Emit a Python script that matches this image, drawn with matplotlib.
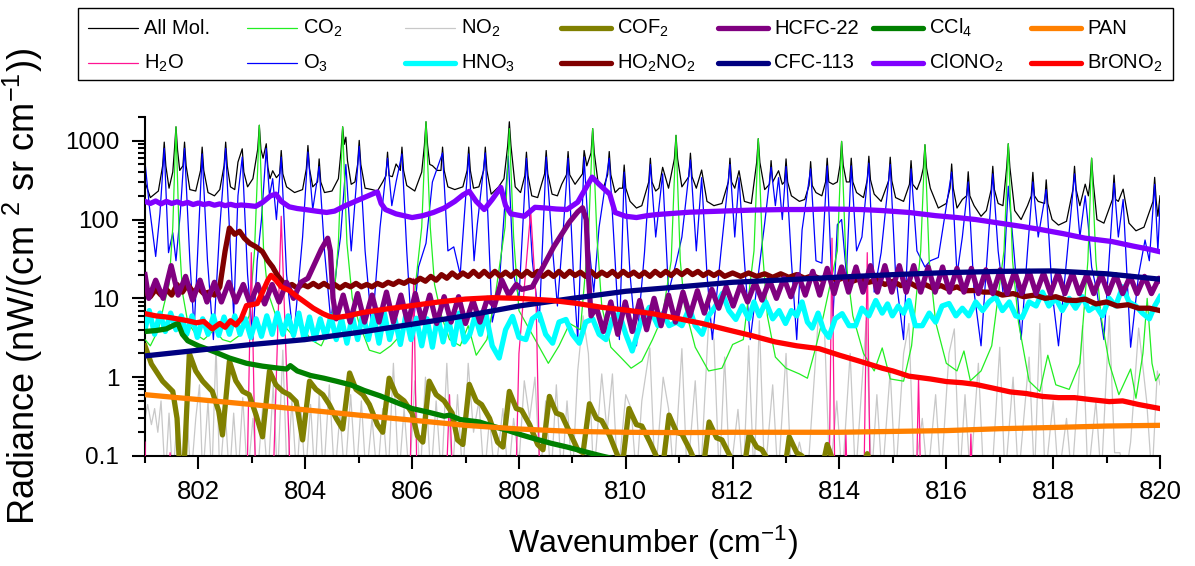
import matplotlib
matplotlib.use("Agg")
import matplotlib.pyplot as plt
from matplotlib.lines import Line2D
from matplotlib.patches import Rectangle
from matplotlib.ticker import FixedLocator, NullFormatter

plt.rcParams['font.family'] = ['Liberation Sans', 'DejaVu Sans']
plt.rcParams['mathtext.default'] = 'regular'

# ---------------- data (wavenumber cm-1, radiance nW/(cm2 sr cm-1)) ----------------
allmol_x = [801.00, 801.10, 801.25, 801.33, 801.36, 801.39, 801.45, 801.52, 801.55, 801.58, 801.61, 801.65, 801.71, 801.74,
            801.77, 801.84, 801.95, 802.04, 802.07, 802.10, 802.18, 802.30, 802.40, 802.48, 802.51, 802.54, 802.60, 802.68,
            802.74, 802.82, 802.85, 802.92, 803.02, 803.11, 803.14, 803.17, 803.21, 803.27, 803.30, 803.34, 803.39, 803.46,
            803.52, 803.55, 803.58, 803.65, 803.80, 803.95, 804.02, 804.05, 804.08, 804.14, 804.23, 804.26, 804.29, 804.36,
            804.50, 804.62, 804.67, 804.70, 804.73, 804.76, 804.79, 804.86, 804.93, 804.98, 805.01, 805.04, 805.12, 805.25,
            805.35, 805.45, 805.51, 805.54, 805.57, 805.63, 805.70, 805.78, 805.81, 805.84, 805.90, 806.05, 806.18, 806.23,
            806.26, 806.29, 806.33, 806.38, 806.47, 806.54, 806.57, 806.60, 806.67, 806.80, 806.95, 807.03, 807.06, 807.09,
            807.15, 807.25, 807.34, 807.37, 807.40, 807.48, 807.62, 807.72, 807.79, 807.82, 807.85, 807.93, 808.03, 808.11,
            808.14, 808.17, 808.24, 808.35, 808.48, 808.51, 808.54, 808.62, 808.72, 808.80, 808.89, 808.92, 808.95, 809.05,
            809.19, 809.22, 809.27, 809.35, 809.38, 809.41, 809.48, 809.58, 809.66, 809.69, 809.72, 809.80, 809.88, 809.94,
            809.97, 810.00, 810.08, 810.20, 810.30, 810.43, 810.46, 810.49, 810.56, 810.62, 810.69, 810.80, 810.91, 810.94,
            810.97, 811.05, 811.18, 811.21, 811.24, 811.32, 811.42, 811.52, 811.65, 811.80, 811.92, 811.95, 811.98, 812.04,
            812.12, 812.22, 812.35, 812.45, 812.48, 812.51, 812.60, 812.69, 812.72, 812.75, 812.86, 812.93, 812.97, 813.00,
            813.03, 813.10, 813.25, 813.35, 813.43, 813.46, 813.49, 813.56, 813.67, 813.74, 813.77, 813.80, 813.88, 813.96,
            814.01, 814.04, 814.07, 814.13, 814.19, 814.22, 814.25, 814.32, 814.45, 814.52, 814.55, 814.58, 814.65, 814.78,
            814.92, 814.95, 814.98, 815.05, 815.20, 815.31, 815.34, 815.37, 815.45, 815.52, 815.57, 815.60, 815.63, 815.70,
            815.85, 816.00, 816.07, 816.10, 816.13, 816.20, 816.30, 816.38, 816.41, 816.44, 816.52, 816.65, 816.75, 816.84,
            816.87, 816.90, 816.97, 817.06, 817.13, 817.16, 817.19, 817.28, 817.40, 817.52, 817.59, 817.62, 817.65, 817.72,
            817.84, 817.87, 817.90, 817.98, 818.10, 818.25, 818.37, 818.40, 818.43, 818.50, 818.60, 818.66, 818.69, 818.72,
            818.75, 818.82, 818.95, 819.11, 819.14, 819.17, 819.22, 819.31, 819.42, 819.55, 819.70, 819.87, 819.90, 819.93,
            819.96, 820.00]
allmol_y = [300, 190, 230, 480, 960, 480, 250, 400, 750, 1500, 750, 420, 480, 960,
            480, 240, 230, 420, 830, 420, 220, 200, 240, 480, 960, 480, 260, 240,
            535, 790, 400, 260, 330, 780, 1570, 780, 600, 915, 460, 330, 416, 340,
            380, 751, 380, 260, 220, 240, 440, 870, 440, 260, 300, 588, 300, 220,
            230, 330, 750, 1500, 900, 1110, 560, 280, 300, 500, 1010, 500, 250, 240,
            230, 300, 360, 716, 360, 350, 507, 420, 830, 420, 270, 230, 400, 870,
            1740, 870, 500, 483, 420, 420, 830, 420, 260, 240, 260, 420, 830, 420,
            250, 260, 420, 830, 420, 210, 260, 330, 870, 1740, 870, 260, 220, 360,
            716, 360, 200, 190, 380, 751, 380, 210, 200, 280, 370, 729, 370, 280,
            380, 751, 480, 700, 1426, 700, 300, 250, 370, 729, 370, 220, 250, 250,
            492, 250, 170, 140, 150, 300, 600, 300, 230, 250, 460, 250, 590, 1170,
            590, 260, 350, 695, 350, 250, 425, 170, 150, 160, 300, 600, 300, 250,
            416, 170, 160, 530, 1060, 530, 240, 280, 559, 300, 416, 280, 300, 588,
            300, 200, 170, 180, 270, 543, 270, 220, 200, 300, 600, 300, 280, 300,
            490, 980, 490, 300, 300, 600, 300, 220, 190, 320, 636, 320, 210, 170,
            310, 618, 310, 190, 170, 280, 559, 280, 240, 320, 450, 889, 450, 250,
            140, 160, 250, 507, 250, 140, 180, 200, 404, 200, 150, 110, 130, 240,
            474, 240, 160, 150, 460, 915, 460, 130, 100, 150, 200, 397, 200, 170,
            160, 319, 160, 100, 85, 95, 240, 474, 240, 150, 281, 200, 300, 600,
            300, 100, 90, 180, 366, 180, 170, 243, 90, 72, 80, 170, 343, 170,
            110, 200]

o3_x = [801.00, 801.08, 801.20, 801.28, 801.36, 801.44, 801.52, 801.58, 801.66, 801.74, 801.84, 801.92, 802.00, 802.07,
        802.17, 802.28, 802.40, 802.51, 802.60, 802.66, 802.74, 802.82, 802.92, 803.02, 803.10, 803.18, 803.27, 803.33,
        803.39, 803.46, 803.55, 803.65, 803.78, 803.95, 804.05, 804.14, 804.26, 804.36, 804.48, 804.60, 804.66, 804.76,
        804.86, 805.01, 805.12, 805.25, 805.40, 805.54, 805.62, 805.70, 805.81, 805.90, 806.00, 806.12, 806.26, 806.38,
        806.57, 806.67, 806.78, 806.90, 807.06, 807.16, 807.22, 807.37, 807.50, 807.62, 807.80, 807.90, 808.00, 808.14,
        808.25, 808.38, 808.51, 808.62, 808.72, 808.82, 808.92, 809.02, 809.10, 809.22, 809.32, 809.40, 809.50, 809.69,
        809.80, 809.88, 809.97, 810.08, 810.20, 810.35, 810.46, 810.56, 810.69, 810.80, 810.94, 811.05, 811.21, 811.32,
        811.42, 811.52, 811.62, 811.78, 811.95, 812.04, 812.12, 812.22, 812.33, 812.48, 812.60, 812.72, 812.80, 812.86,
        812.93, 813.00, 813.10, 813.20, 813.30, 813.46, 813.56, 813.67, 813.77, 813.88, 813.96, 814.04, 814.13, 814.22,
        814.32, 814.42, 814.55, 814.65, 814.78, 814.95, 815.05, 815.20, 815.34, 815.45, 815.60, 815.70, 815.85, 816.10,
        816.20, 816.30, 816.41, 816.52, 816.65, 816.87, 816.97, 817.06, 817.16, 817.28, 817.40, 817.52, 817.62, 817.72,
        817.87, 817.98, 818.10, 818.25, 818.40, 818.50, 818.60, 818.66, 818.72, 818.82, 818.95, 819.14, 819.22, 819.31,
        819.45, 819.60, 819.72, 819.80, 819.90, 819.96, 820.00]
o3_y = [540, 150, 34, 120, 800, 38, 68, 30, 120, 800, 30, 4, 60, 680,
        30, 3, 80, 800, 40, 6, 200, 620, 20, 3, 30, 100, 800, 200,
        330, 100, 620, 20, 3, 60, 720, 134, 470, 40, 5, 30, 60, 500,
        40, 850, 40, 4, 80, 600, 150, 300, 680, 40, 3, 25, 50, 300,
        700, 40, 45, 20, 680, 30, 86, 700, 5, 12, 640, 20, 10, 600,
        30, 5, 620, 50, 8, 60, 600, 20, 3, 620, 40, 12, 80, 600,
        30, 3, 400, 20, 2.5, 38, 500, 60, 380, 12, 28, 60, 570, 40,
        340, 20, 3, 38, 500, 60, 340, 30, 3, 20, 90, 460, 150, 340,
        100, 470, 30, 3, 74, 440, 30, 28, 480, 6, 86, 100, 20, 480,
        40, 60, 520, 12, 38, 500, 20, 3, 440, 40, 25, 30, 33, 400,
        20, 60, 300, 12, 2.5, 380, 40, 12, 265, 30, 3, 40, 300, 60,
        240, 12, 2.5, 30, 380, 60, 200, 80, 25, 12, 3, 290, 60, 180,
        2.4, 20, 55, 30, 280, 40, 150]

co2_x = [801.00, 801.10, 801.25, 801.35, 801.45, 801.52, 801.58, 801.64, 801.70, 801.80, 801.95, 802.10, 802.30, 802.45,
         802.60, 802.80, 802.95, 803.05, 803.14, 803.22, 803.30, 803.45, 803.60, 803.75, 803.90, 804.10, 804.30, 804.50,
         804.62, 804.70, 804.78, 804.88, 805.00, 805.20, 805.40, 805.60, 805.80, 806.00, 806.18, 806.26, 806.34, 806.42,
         806.55, 806.70, 806.90, 807.05, 807.20, 807.40, 807.55, 807.74, 807.82, 807.90, 808.00, 808.12, 808.30, 808.55,
         808.75, 808.95, 809.15, 809.30, 809.38, 809.46, 809.55, 809.72, 809.90, 810.10, 810.30, 810.50, 810.68, 810.85,
         810.94, 811.02, 811.10, 811.30, 811.55, 811.80, 812.00, 812.20, 812.40, 812.48, 812.56, 812.65, 812.80, 813.00,
         813.25, 813.40, 813.55, 813.70, 813.96, 814.04, 814.12, 814.25, 814.45, 814.65, 814.80, 814.95, 815.20, 815.35,
         815.52, 815.60, 815.68, 815.80, 816.00, 816.20, 816.33, 816.45, 816.65, 816.85, 817.08, 817.16, 817.24, 817.35,
         817.55, 817.75, 817.90, 818.05, 818.30, 818.50, 818.65, 818.72, 818.80, 818.90, 819.05, 819.23, 819.45, 819.55,
         819.68, 819.76, 819.85, 819.92, 820.00]
co2_y = [3.0, 2.5, 4, 8, 15, 80, 1500, 60, 12, 5, 3.5, 3, 4, 3,
         2.8, 3.5, 6, 40, 1570, 40, 12, 6, 4.5, 3.5, 5, 3, 2.5, 5,
         50, 1500, 50, 10, 5, 2.2, 2.0, 2.5, 3.5, 6, 80, 1740, 80, 15,
         6, 3, 2.5, 4.5, 1.9, 3, 10, 80, 1426, 60, 7, 5, 3, 1.5,
         2.5, 4.8, 4, 60, 1426, 60, 8, 2.4, 1.8, 1.3, 1.6, 3, 5.7, 30,
         1170, 30, 8, 2.4, 1.2, 1.3, 2.6, 3, 40, 1060, 40, 6, 1.8, 1.3,
         1.1, 0.97, 2.3, 6, 40, 980, 30, 6, 2, 1.2, 2.35, 0.95, 0.89, 2.5,
         40, 889, 30, 5, 1.5, 1.2, 2.15, 0.9, 1.2, 2.5, 40, 915, 30, 5,
         0.89, 0.66, 1.9, 0.8, 0.7, 1.5, 30, 600, 30, 5.7, 1.5, 0.6, 1.27, 0.54,
         2, 10, 1.5, 0.9, 1.1]

no2_x = [801.00, 801.05, 801.12, 801.18, 801.24, 801.30, 801.38, 801.45, 801.52, 801.60, 801.68, 801.78, 801.86, 801.95,
         802.02, 802.08, 802.18, 802.25, 802.33, 802.40, 802.50, 802.58, 802.66, 802.74, 802.83, 802.92, 803.02, 803.10,
         803.20, 803.30, 803.40, 803.48, 803.58, 803.66, 803.75, 803.84, 803.92, 804.00, 804.10, 804.18, 804.26, 804.34,
         804.45, 804.55, 804.65, 804.74, 804.85, 804.95, 805.05, 805.14, 805.25, 805.35, 805.45, 805.55, 805.65, 805.75,
         805.85, 805.95, 806.05, 806.15, 806.25, 806.35, 806.45, 806.55, 806.65, 806.75, 806.85, 806.95, 807.05, 807.15,
         807.25, 807.35, 807.45, 807.55, 807.70, 807.80, 807.90, 808.00, 808.10, 808.20, 808.30, 808.40, 808.50, 808.60,
         808.70, 808.80, 808.90, 809.00, 809.10, 809.20, 809.30, 809.40, 809.55, 809.65, 809.75, 809.85, 810.00, 810.10,
         810.20, 810.30, 810.45, 810.55, 810.70, 810.80, 810.90, 811.05, 811.15, 811.30, 811.40, 811.55, 811.65, 811.75,
         811.85, 811.95, 812.10, 812.20, 812.30, 812.40, 812.50, 812.60, 812.75, 812.85, 813.00, 813.10, 813.25, 813.40,
         813.60, 813.72, 813.82, 813.95, 814.05, 814.20, 814.30, 814.50, 814.60, 814.70, 814.80, 814.95, 815.05, 815.20,
         815.30, 815.40, 815.55, 815.65, 815.80, 815.90, 816.05, 816.15, 816.25, 816.35, 816.45, 816.60, 816.70, 816.85,
         817.00, 817.10, 817.25, 817.35, 817.55, 817.65, 817.75, 817.85, 818.00, 818.10, 818.25, 818.35, 818.55, 818.65,
         818.80, 818.90, 819.05, 819.15, 819.25, 819.35, 819.45, 819.60, 819.75, 819.85, 819.95, 820.00]
no2_y = [0.3, 0.45, 0.25, 0.4, 0.2, 0.5, 0.05, 0.35, 0.05, 0.3, 0.05, 0.4, 0.05, 0.3,
         0.8, 0.05, 0.5, 0.05, 2.5, 0.05, 0.4, 0.05, 0.35, 0.05, 0.55, 0.05, 0.3, 0.05,
         0.4, 0.05, 0.8, 0.05, 2.2, 0.05, 0.5, 0.05, 0.4, 0.05, 0.45, 0.05, 0.6, 0.05,
         0.8, 0.05, 0.35, 0.05, 0.6, 0.05, 0.5, 0.05, 0.3, 0.05, 0.4, 0.05, 1.5, 0.05,
         0.4, 0.05, 0.9, 0.05, 1.0, 0.05, 0.5, 0.05, 1.5, 0.05, 0.6, 0.05, 1.5, 0.2,
         0.5, 0.05, 0.3, 0.05, 0.4, 0.05, 0.3, 0.08, 0.9, 0.3, 1.0, 0.05, 0.5, 0.05,
         0.8, 0.05, 0.5, 0.05, 1.2, 6, 2, 0.05, 1.1, 0.2, 1.1, 0.05, 0.6, 0.4,
         0.05, 0.5, 2.35, 0.05, 1.0, 0.4, 0.05, 2.3, 0.05, 0.9, 0.05, 5, 3, 0.05,
         1.8, 0.05, 0.39, 0.05, 2.5, 0.05, 5.2, 0.05, 0.8, 0.05, 2, 0.05, 0.15, 0.05,
         5.2, 4, 0.05, 0.5, 0.05, 2, 0.05, 5.2, 0.05, 0.6, 0.05, 1.2, 0.05, 2,
         4.8, 0.05, 0.3, 0.05, 0.6, 0.05, 2, 4.1, 0.05, 0.6, 0.05, 1.5, 0.05, 0.05,
         2.4, 0.05, 1, 0.05, 1.8, 0.05, 4.8, 0.05, 0.5, 0.05, 0.3, 0.05, 4.5, 0.05,
         0.5, 0.05, 6, 0.11, 0.11, 0.05, 0.15, 4.2, 0.5, 0.05, 1.2, 0.8]

h2o_x = [801.00, 801.03, 801.42, 801.47, 801.52, 802.90, 802.99, 803.08, 803.40, 803.55, 803.72, 805.95, 806.03, 806.10,
         806.62, 806.70, 806.78, 807.93, 808.00, 808.12, 808.22, 808.32, 808.40, 813.80, 813.86, 813.92, 814.08, 814.12,
         814.16, 814.45, 814.52, 814.58, 815.43, 815.48, 815.53, 816.42, 816.46, 816.50, 820.00]
h2o_y = [0.15, 0.02, 0.02, 0.11, 0.02, 0.02, 38, 0.02, 0.05, 110, 0.05, 0.02, 18, 0.02,
         0.02, 0.6, 0.02, 0.02, 2, 20, 127, 10, 0.02, 0.02, 58, 0.02, 0.02, 0.19,
         0.02, 0.02, 38, 0.02, 0.02, 1.0, 0.02, 0.02, 0.19, 0.02, 0.02]

hno3_x = [801.00, 801.08, 801.18, 801.28, 801.38, 801.48, 801.58, 801.68, 801.78, 801.88, 801.98, 802.08, 802.18, 802.28,
          802.38, 802.48, 802.58, 802.68, 802.78, 802.88, 802.98, 803.08, 803.18, 803.28, 803.38, 803.48, 803.58, 803.68,
          803.78, 803.88, 803.98, 804.08, 804.18, 804.28, 804.38, 804.48, 804.58, 804.68, 804.78, 804.88, 804.98, 805.08,
          805.18, 805.28, 805.38, 805.48, 805.58, 805.68, 805.78, 805.88, 805.98, 806.08, 806.18, 806.28, 806.38, 806.48,
          806.58, 806.68, 806.78, 806.88, 806.98, 807.08, 807.18, 807.28, 807.38, 807.50, 807.63, 807.75, 807.88, 808.00,
          808.13, 808.25, 808.38, 808.50, 808.63, 808.75, 808.88, 809.00, 809.13, 809.25, 809.38, 809.50, 809.63, 809.75,
          809.88, 810.00, 810.12, 810.28, 810.44, 810.60, 810.70, 810.81, 810.95, 811.05, 811.19, 811.30, 811.43, 811.55,
          811.68, 811.81, 811.93, 812.06, 812.18, 812.30, 812.40, 812.50, 812.62, 812.75, 812.87, 812.99, 813.10, 813.20,
          813.30, 813.40, 813.49, 813.60, 813.70, 813.80, 813.92, 814.05, 814.18, 814.30, 814.42, 814.55, 814.68, 814.80,
          814.90, 814.99, 815.10, 815.20, 815.30, 815.42, 815.55, 815.68, 815.80, 815.92, 816.05, 816.18, 816.30, 816.42,
          816.55, 816.68, 816.80, 816.92, 817.05, 817.18, 817.30, 817.42, 817.55, 817.68, 817.80, 817.92, 818.05, 818.17,
          818.30, 818.42, 818.55, 818.67, 818.80, 818.92, 819.05, 819.17, 819.30, 819.42, 819.55, 819.67, 819.80, 819.90,
          820.00]
hno3_y = [4, 7, 3.5, 6.5, 3.8, 6.5, 4, 6, 3.5, 6, 3.2, 5.5, 3.5, 6,
          3.4, 5.8, 3.5, 6, 3.5, 5.5, 3.2, 5.5, 3.3, 6, 3.5, 6.5, 3.5, 6,
          3.4, 6.5, 3, 5.8, 3, 5.5, 3.2, 6, 3, 5.5, 2.7, 6, 3, 6.5,
          3, 6, 2.7, 6.5, 3, 5.5, 2.6, 6, 3, 5.6, 2.5, 5.5, 2.4, 6,
          2.8, 5.5, 2.6, 6.5, 2.8, 3.5, 6, 3.5, 6.4, 2.5, 1.75, 4, 5.9, 3.2,
          3.0, 5.5, 6.4, 3.5, 2.7, 5, 5.4, 3.5, 2.7, 5, 5.5, 3.5, 3.0, 5.5,
          6.4, 3.5, 2.15, 5, 7.7, 4.5, 6.5, 4.5, 5, 4.5, 7.5, 4.5, 3.5, 6,
          8, 11.6, 7, 5.4, 8, 5.5, 9, 6, 9, 5.5, 7, 4.8, 7, 6,
          9, 5, 4.2, 6.5, 4, 3.2, 5.5, 6.4, 4.5, 4.5, 7.5, 6, 9.4, 6.5,
          8.5, 6, 8, 6.5, 9.4, 4.5, 4.5, 6.5, 5, 8, 8.6, 6, 7.5, 6,
          9, 7, 9, 10.5, 7, 9, 6, 5.7, 9, 8, 12, 8, 10, 7,
          10, 7.5, 10.5, 7, 8, 6, 10, 8, 14, 9, 8, 6.5, 5.5, 8,
          10.5]

cof2_x = [801.00, 801.12, 801.33, 801.52, 801.60, 801.66, 801.72, 801.83, 801.95, 802.08, 802.26, 802.38, 802.45, 802.58,
          802.70, 802.83, 802.95, 803.08, 803.20, 803.33, 803.45, 803.58, 803.70, 803.83, 803.95, 804.08, 804.20, 804.33,
          804.45, 804.58, 804.70, 804.83, 804.95, 805.08, 805.20, 805.35, 805.45, 805.57, 805.70, 805.85, 806.00, 806.10,
          806.20, 806.32, 806.45, 806.60, 806.75, 806.85, 806.95, 807.07, 807.20, 807.30, 807.45, 807.60, 807.70, 807.82,
          807.95, 808.05, 808.20, 808.35, 808.45, 808.57, 808.70, 808.80, 808.95, 809.10, 809.20, 809.32, 809.45, 809.55,
          809.70, 809.85, 809.95, 810.06, 810.20, 810.30, 810.45, 810.60, 810.70, 810.81, 810.95, 811.05, 811.20, 811.35,
          811.45, 811.56, 811.70, 811.80, 811.95, 812.10, 812.20, 812.31, 812.45, 812.55, 812.70, 812.85, 812.95, 813.06,
          813.20, 813.30, 813.45, 813.60, 813.77, 813.90, 814.10, 814.30, 814.52, 814.65, 814.80, 820.00]
cof2_y = [2.5, 1.47, 0.89, 0.66, 0.3, 0.05, 0.05, 2.0, 1.2, 0.89, 0.66, 0.37, 0.185, 1.6,
          0.9, 0.66, 0.6, 0.33, 0.175, 1.2, 0.8, 0.66, 0.6, 0.49, 0.16, 0.89, 0.7, 0.6,
          0.45, 0.3, 0.22, 1.13, 0.7, 0.6, 0.45, 0.25, 0.2, 0.97, 0.6, 0.5, 0.35, 0.18,
          0.15, 0.89, 0.6, 0.5, 0.35, 0.16, 0.14, 0.81, 0.5, 0.45, 0.3, 0.15, 0.13, 0.66,
          0.4, 0.38, 0.25, 0.14, 0.12, 0.57, 0.35, 0.33, 0.2, 0.12, 0.11, 0.46, 0.3, 0.28,
          0.18, 0.1, 0.09, 0.40, 0.25, 0.24, 0.15, 0.09, 0.08, 0.33, 0.2, 0.19, 0.12, 0.07,
          0.07, 0.27, 0.17, 0.16, 0.1, 0.06, 0.06, 0.19, 0.13, 0.12, 0.08, 0.05, 0.05, 0.175,
          0.11, 0.1, 0.06, 0.04, 0.14, 0.08, 0.04, 0.04, 0.107, 0.06, 0.03, 0.03]

ho2no2_x = [801.00, 801.10, 801.20, 801.30, 801.40, 801.50, 801.60, 801.70, 801.80, 801.90, 802.00, 802.10, 802.20, 802.30,
            802.40, 802.50, 802.58, 802.68, 802.77, 802.86, 802.96, 803.08, 803.20, 803.30, 803.39, 803.47, 803.55, 803.65,
            803.75, 803.85, 803.95, 804.05, 804.15, 804.25, 804.35, 804.45, 804.55, 804.65, 804.75, 804.85, 804.95, 805.05,
            805.15, 805.25, 805.35, 805.45, 805.55, 805.65, 805.75, 805.85, 805.95, 806.05, 806.15, 806.25, 806.35, 806.45,
            806.55, 806.65, 806.75, 806.85, 806.95, 807.05, 807.15, 807.25, 807.35, 807.45, 807.55, 807.65, 807.75, 807.85,
            807.95, 808.05, 808.15, 808.25, 808.35, 808.45, 808.55, 808.65, 808.75, 808.85, 808.95, 809.05, 809.15, 809.25,
            809.35, 809.45, 809.55, 809.65, 809.75, 809.85, 809.95, 810.05, 810.15, 810.25, 810.35, 810.45, 810.55, 810.65,
            810.75, 810.85, 810.95, 811.05, 811.15, 811.25, 811.35, 811.45, 811.55, 811.65, 811.75, 811.85, 812.00, 812.15,
            812.30, 812.45, 812.60, 812.75, 812.90, 813.05, 813.20, 813.35, 813.50, 813.65, 813.80, 813.95, 814.10, 814.25,
            814.40, 814.55, 814.70, 814.85, 815.00, 815.15, 815.30, 815.45, 815.60, 815.75, 815.90, 816.05, 816.20, 816.35,
            816.55, 816.70, 816.90, 817.05, 817.25, 817.45, 817.65, 817.85, 818.05, 818.25, 818.43, 818.60, 818.80, 819.00,
            819.20, 819.40, 819.60, 819.80, 820.00]
ho2no2_y = [12, 10.5, 13, 11, 13, 11, 15, 12, 15, 12, 13.5, 11.5, 12, 11,
            14, 40, 78, 65, 71, 58, 50, 45, 39, 30, 25, 20, 17, 14,
            15, 13.5, 15, 14, 15.5, 14, 15.5, 14, 15, 13.5, 15, 14, 15.5, 14,
            15, 14, 15.5, 14.5, 16, 15, 16.5, 15.5, 17, 16, 18, 16.5, 19, 17,
            20, 18, 21, 18.5, 21, 19, 22, 19, 22, 19, 22, 19, 21.5, 19,
            22, 19, 22, 19.5, 22, 19, 21.5, 19, 22, 19, 22, 19.5, 21.5, 19,
            22, 19, 21.5, 19.5, 22, 19, 22, 19.5, 21.5, 19, 21.5, 19, 22, 19.5,
            22, 19.5, 22.5, 20, 22.5, 20, 22, 19.5, 21.5, 19.5, 21.5, 19, 21, 19,
            21, 19, 20.5, 18.5, 20.5, 18.5, 20, 18, 19.5, 17.5, 19, 17, 18.5, 16.5,
            18, 16, 17, 15, 16.5, 14.5, 16, 14, 15, 13.5, 14.5, 13, 14, 12.5,
            12.6, 12, 12, 11, 11.5, 10.5, 11, 10, 10.5, 9.5, 9.4, 9.8, 8.5, 9,
            8, 8.3, 7.5, 7.5, 7]

hcfc22_x = [801.00, 801.07, 801.20, 801.34, 801.49, 801.62, 801.76, 801.89, 802.03, 802.16, 802.30, 802.43, 802.57, 802.70,
            802.84, 802.97, 803.11, 803.24, 803.38, 803.51, 803.65, 803.78, 803.92, 804.05, 804.18, 804.30, 804.42, 804.47,
            804.52, 804.58, 804.71, 804.84, 804.98, 805.11, 805.25, 805.38, 805.52, 805.65, 805.79, 805.92, 806.06, 806.19,
            806.33, 806.46, 806.60, 806.73, 806.87, 807.00, 807.14, 807.27, 807.41, 807.54, 807.68, 807.81, 807.95, 808.05,
            808.25, 808.45, 808.65, 808.94, 809.10, 809.19, 809.26, 809.30, 809.35, 809.45, 809.58, 809.72, 809.85, 809.99,
            810.12, 810.26, 810.39, 810.53, 810.66, 810.80, 810.93, 811.07, 811.20, 811.34, 811.47, 811.61, 811.74, 811.88,
            812.01, 812.15, 812.28, 812.42, 812.55, 812.69, 812.82, 812.96, 813.09, 813.23, 813.36, 813.50, 813.63, 813.77,
            813.90, 814.04, 814.17, 814.31, 814.44, 814.58, 814.71, 814.85, 814.98, 815.12, 815.25, 815.39, 815.52, 815.66,
            815.79, 815.93, 816.06, 816.20, 816.33, 816.47, 816.60, 816.74, 816.87, 817.01, 817.14, 817.28, 817.41, 817.55,
            817.68, 817.82, 817.95, 818.09, 818.22, 818.36, 818.49, 818.63, 818.76, 818.90, 819.03, 819.17, 819.30, 819.44,
            819.57, 819.71, 819.84, 819.98, 820.00]
hcfc22_y = [20, 10, 17, 10, 26, 11, 19, 9.5, 17, 9, 16, 9, 16, 9,
            15, 8.5, 15, 8.5, 15, 9, 16, 10, 16, 18, 28, 42, 58, 40,
            10, 5.5, 11, 5, 11.5, 5, 11, 5, 12, 5, 11, 4.8, 11.5, 5,
            11, 4.8, 10.5, 5, 10.5, 4.8, 9.4, 5, 10, 8, 17, 11, 15, 13,
            14, 25, 45, 92, 125, 141, 100, 20, 6, 7.7, 3.8, 9, 3.5, 9,
            3.8, 9.4, 4, 10, 4.5, 11, 5, 12, 6, 12.5, 6.5, 13, 7.5, 14,
            8, 15, 9, 16, 9.5, 17, 10, 18, 10.5, 20, 11, 22, 11, 24,
            11.5, 25, 12, 25, 12, 26, 12, 26, 12, 26, 12, 26, 12, 25,
            12, 25, 12, 24, 12, 24, 11.5, 23, 11.5, 23, 11.5, 22, 11.5, 22,
            11.5, 21, 11.5, 21, 11.5, 21, 11.5, 20, 11.5, 20, 11.5, 20, 11.5, 19,
            11.5, 19, 11.5, 18, 17]

cfc113_x = [801.0, 802.0, 803.0, 804.0, 805.0, 806.0, 807.0, 808.0, 809.0, 810.0,
            811.0, 812.0, 813.0, 814.0, 815.0, 816.0, 817.0, 818.0, 819.0, 820.0]
cfc113_y = [1.86, 2.2, 2.6, 3.0, 3.7, 4.7, 6.0, 8.0, 10.0, 12.3,
            14.0, 16.0, 17.2, 18.6, 20.0, 21.2, 22.0, 22.3, 20.5, 17.5]

ccl4_x = [801.00, 801.20, 801.40, 801.55, 801.62, 801.70, 801.80, 802.00, 802.30, 802.58, 802.90, 803.20, 803.50, 803.65,
          803.72, 803.85, 804.10, 804.35, 804.58, 804.85, 805.10, 805.40, 805.70, 806.00, 806.30, 806.60, 806.70, 806.90,
          807.26, 807.50, 807.80, 808.05, 808.30, 808.60, 808.90, 809.20, 809.55, 809.90, 810.30, 811.00]
ccl4_y = [3.8, 3.9, 4.1, 4.6, 4.8, 3.5, 2.9, 2.5, 2.1, 1.75, 1.5, 1.38, 1.3, 1.27,
          1.4, 1.2, 1.05, 0.97, 0.89, 0.8, 0.68, 0.58, 0.48, 0.40, 0.36, 0.32, 0.33, 0.29,
          0.27, 0.24, 0.21, 0.185, 0.165, 0.145, 0.13, 0.115, 0.1, 0.088, 0.078, 0.065]

clono2_x = [801.00, 801.10, 801.20, 801.30, 801.40, 801.50, 801.60, 801.70, 801.80, 801.90, 802.00, 802.10, 802.20, 802.30,
            802.40, 802.50, 802.60, 802.70, 802.80, 802.95, 803.07, 803.20, 803.35, 803.45, 803.55, 803.70, 803.85, 804.00,
            804.20, 804.40, 804.55, 804.75, 804.90, 805.10, 805.25, 805.35, 805.42, 805.50, 805.70, 806.00, 806.20, 806.40,
            806.60, 806.80, 806.95, 807.07, 807.20, 807.35, 807.50, 807.66, 807.75, 807.85, 808.10, 808.30, 808.50, 808.70,
            808.90, 809.10, 809.25, 809.37, 809.50, 809.70, 809.80, 810.00, 810.20, 810.40, 810.60, 810.90, 811.20, 811.50,
            811.80, 812.10, 812.40, 812.70, 813.00, 813.40, 813.80, 814.40, 814.80, 815.30, 815.80, 816.20, 816.55, 817.00,
            817.40, 817.80, 818.20, 818.60, 819.10, 819.50, 819.80, 820.00]
clono2_y = [170, 160, 172, 158, 170, 160, 168, 158, 165, 155, 162, 155, 160, 152,
            158, 150, 156, 150, 153, 150, 147, 165, 200, 210, 170, 145, 138, 134,
            128, 123, 128, 150, 166, 190, 210, 224, 160, 134, 118, 106, 112, 123,
            140, 170, 205, 228, 170, 134, 180, 256, 150, 118, 110, 143, 140, 136,
            134, 166, 250, 345, 280, 210, 123, 110, 106, 112, 116, 120, 124, 126,
            128, 130, 132, 133, 134, 134, 136, 134, 130, 123, 112, 106, 100, 90,
            82, 74, 66, 58, 52.6, 46, 42, 39]

pan_x = [801.0, 802.0, 803.0, 804.0, 805.0, 806.0, 807.0, 808.0, 809.0, 810.0,
         811.0, 812.0, 813.0, 814.0, 815.0, 816.0, 817.0, 818.0, 819.0, 820.0]
pan_y = [0.60, 0.52, 0.45, 0.385, 0.33, 0.285, 0.245, 0.22, 0.205, 0.20,
         0.198, 0.20, 0.20, 0.20, 0.205, 0.21, 0.222, 0.23, 0.24, 0.245]

brono2_x = [801.00, 801.20, 801.40, 801.60, 801.80, 801.96, 802.10, 802.26, 802.40, 802.50, 802.60, 802.70, 802.80, 802.90,
            803.00, 803.10, 803.20, 803.30, 803.36, 803.45, 803.55, 803.70, 803.85, 803.95, 804.15, 804.33, 804.45, 804.58,
            804.80, 805.07, 805.50, 806.00, 806.50, 807.00, 807.50, 808.00, 808.63, 809.10, 809.55, 810.00, 810.50, 811.00,
            811.43, 811.90, 812.37, 812.80, 813.20, 813.62, 814.00, 814.37, 814.80, 815.00, 815.30, 815.70, 816.00, 816.30,
            816.55, 816.90, 817.20, 817.50, 817.80, 818.10, 818.40, 818.70, 819.05, 819.30, 819.60, 820.00]
brono2_y = [6.4, 6.0, 5.8, 5.5, 5.2, 4.9, 5.1, 4.1, 4.8, 4.3, 5.2, 4.6, 5.5, 8.1,
            8.3, 8.6, 12, 17, 19.6, 17, 14, 12.6, 10.5, 9.4, 7.5, 6.4, 5.9, 5.7,
            6.0, 6.6, 7.3, 8.1, 9.0, 9.8, 10.2, 10.0, 9.4, 8.6, 7.7, 7.1, 6.4, 5.5,
            4.8, 4.0, 3.35, 2.8, 2.5, 2.3, 1.9, 1.6, 1.3, 1.2, 1.03, 0.95, 0.88, 0.85,
            0.81, 0.72, 0.65, 0.62, 0.57, 0.55, 0.55, 0.52, 0.49, 0.5, 0.45, 0.40]

# ---------------- figure ----------------
W, H = 1195, 566
fig = plt.figure(figsize=(W / 100, H / 100), dpi=100)
ax = fig.add_axes([145 / W, 1 - 456 / H, (1160 - 145) / W, (456 - 117) / H])

THIN = 0.9
THICK = 3.8
series = [
    # (label, x, y, color, lw, zorder)
    ('All Mol.', allmol_x, allmol_y, '#000000', THIN, 2),
    ('CO$_2$', co2_x, co2_y, '#22ee22', THIN, 3),
    ('NO$_2$', no2_x, no2_y, '#c8c8c8', THIN, 2),
    ('H$_2$O', h2o_x, h2o_y, '#ff1493', THIN, 3),
    ('O$_3$', o3_x, o3_y, '#0000ff', THIN, 2.5),
    ('COF$_2$', cof2_x, cof2_y, '#808000', THICK, 4),
    ('HNO$_3$', hno3_x, hno3_y, '#00ffff', THICK, 4),
    ('CCl$_4$', ccl4_x, ccl4_y, '#008000', THICK, 4),
    ('PAN', pan_x, pan_y, '#ff8000', THICK, 4),
    ('HCFC-22', hcfc22_x, hcfc22_y, '#800080', THICK, 5),
    ('HO$_2$NO$_2$', ho2no2_x, ho2no2_y, '#800000', THICK, 4.5),
    ('CFC-113', cfc113_x, cfc113_y, '#000080', THICK, 5),
    ('ClONO$_2$', clono2_x, clono2_y, '#8000ff', THICK, 5),
    ('BrONO$_2$', brono2_x, brono2_y, '#ff0000', THICK, 6),
]
style = {}
for lab, xs, ys, col, lw, z in series:
    ax.plot(xs, ys, color=col, lw=lw, zorder=z, solid_joinstyle='round')
    style[lab] = (col, lw)

ax.set_yscale('log')
ax.set_xlim(801, 820)
ax.set_ylim(0.1, 2000)

ax.xaxis.set_major_locator(FixedLocator([802, 804, 806, 808, 810, 812, 814, 816, 818, 820]))
ax.xaxis.set_minor_locator(FixedLocator([801, 803, 805, 807, 809, 811, 813, 815, 817, 819]))
ax.set_xticklabels(['802', '804', '806', '808', '810', '812', '814', '816', '818', '820'])
ax.yaxis.set_major_locator(FixedLocator([0.1, 1, 10, 100, 1000]))
ax.set_yticklabels(['0.1', '1', '10', '100', '1000'])
ymin = [m * d for d in [0.1, 1, 10, 100, 1000] for m in range(2, 10)]
ax.yaxis.set_minor_locator(FixedLocator(ymin))
ax.yaxis.set_minor_formatter(NullFormatter())

for s in ['top', 'right']:
    ax.spines[s].set_visible(False)
for s in ['left', 'bottom']:
    ax.spines[s].set_linewidth(1.5)
ax.tick_params(which='major', direction='out', length=9.5, width=1.5, labelsize=18.5, pad=8)
ax.tick_params(which='minor', direction='out', length=5, width=1.5)
ax.tick_params(axis='y', which='major', labelsize=17.5, pad=9)

ax.set_xlabel('Wavenumber (cm$^{-1}$)', fontsize=23, labelpad=14)
ax.set_ylabel('Radiance (nW/(cm $^{2}$ sr cm$^{-1}$))', fontsize=26, labelpad=14)

# ---------------- legend (two rows, seven fixed-width columns) ----------------
rows = [
    ['All Mol.', 'CO$_2$', 'NO$_2$', 'COF$_2$', 'HCFC-22', 'CCl$_4$', 'PAN'],
    ['H$_2$O', 'O$_3$', 'HNO$_3$', 'HO$_2$NO$_2$', 'CFC-113', 'ClONO$_2$', 'BrONO$_2$'],
]
col_px = [88, 247, 405, 561, 718, 873, 1031]
row_py = [28, 63]
fig.patches.append(Rectangle((78 / W, 1 - 80 / H), (1173 - 78) / W, (80 - 8) / H,
                             transform=fig.transFigure, fill=False, edgecolor='black', lw=1.0))
for r, labs in enumerate(rows):
    for c, lab in enumerate(labs):
        col, lw = style[lab]
        y = 1 - row_py[r] / H
        x0 = col_px[c] / W
        fig.add_artist(Line2D([x0, x0 + 50 / W], [y, y], transform=fig.transFigure,
                              color=col, lw=lw, solid_capstyle='round'))
        fig.text(x0 + 56 / W, y, lab, fontsize=14.5, va='center', ha='left')

fig.savefig('out.png', dpi=100)
